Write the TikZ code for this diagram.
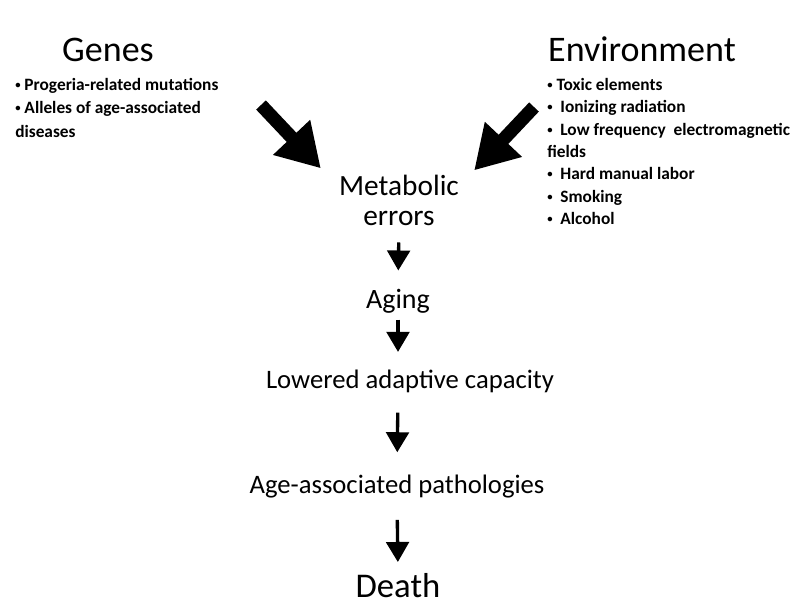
\documentclass[tikz,border=0pt]{standalone}
\usepackage{fontspec}
\setmainfont{Carlito}
\usetikzlibrary{arrows.meta}
\newcommand{\bul}{\raisebox{1.5pt}{\fontsize{8}{8}\selectfont•}}

\begin{document}
\begin{tikzpicture}[
    x=0.75pt, y=-0.75pt,
    title/.style={font=\fontsize{27}{32}\selectfont, inner sep=0pt, anchor=base},
    stage/.style={font=\fontsize{20}{24}\selectfont, inner sep=0pt, anchor=base},
    bullets/.style={font=\fontsize{13}{17.6}\selectfont\bfseries, align=left, inner sep=0pt, anchor=north west},
    bigline/.style={draw, line width=10pt, -{Triangle[width=36pt, length=32pt]}},
    line/.style={draw, line width=2.5pt, -{Triangle[width=17pt, length=15pt]}}
]
    \useasboundingbox (0,0) rectangle (805,606);

    % Nodes
    \node [title] (genes) at (108,62) {Genes};
    \node [title] (env) at (642,62) {Environment};
    \node [bullets] (geneslist) at (15,78) {\bul\ Progeria-related mutations\\\bul\ Alleles of age-associated\\diseases};
    \node [bullets, font=\fontsize{13}{16.75}\selectfont\bfseries] (envlist) at (547,78) {\bul\ Toxic elements\\\bul\ \ Ionizing radiation\\\bul\ \ Low frequency\ \ electromagnetic\\fields\\\bul\ \ Hard manual labor\\\bul\ \ Smoking\\\bul\ \ Alcohol};
    \node [stage, font=\fontsize{22}{22.5}\selectfont, align=center] (meta) at (399,225) {Metabolic\\errors};
    \node [stage, font=\fontsize{21}{24}\selectfont] (aging) at (398,308) {Aging};
    \node [stage] (lowered) at (410,388) {Lowered adaptive capacity};
    \node [stage] (patho) at (397,493) {Age-associated pathologies};
    \node [stage, font=\fontsize{26}{30}\selectfont] (death) at (398,597) {Death};
    \coordinate (gtail) at (261,105);
    \coordinate (etail) at (534,107);

    % Paths
    \path [bigline] (gtail) -- ([shift={(-18,-6)}]meta.north west);
    \path [bigline] (etail) -- ([shift={(15,-4)}]meta.north east);
    \path [line, shorten <=12.75pt, shorten >=13.5pt] (meta.south) -- (aging.north);
    \path [line, shorten <=5pt, shorten >=13pt] (aging.south) -- (aging.south |- lowered.north);
    \path [line, shorten <=15pt, shorten >=16.5pt] (aging.south |- lowered.south) -- (patho.north);
    \path [line, shorten <=16.5pt, shorten >=8pt] (patho.south) -- (death.north);
\end{tikzpicture}
\end{document}
